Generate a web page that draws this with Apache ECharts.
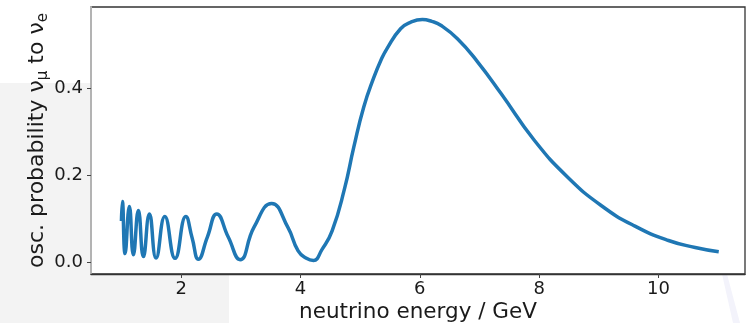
<!DOCTYPE html>
<html>
<head>
<meta charset="utf-8">
<script src="https://cdn.jsdelivr.net/npm/echarts@6/dist/echarts.min.js"></script>
<style>
  html, body { margin: 0; padding: 0; background: #fff; }
  #chart { width: 748px; height: 323px; }
</style>
</head>
<body>
<div id="chart"></div>
<script>
// 读图得到的能量 (GeV) 与振荡概率
var energy = [1.0, 1.016, 1.061, 1.133, 1.200, 1.284, 1.368, 1.469, 1.581, 1.727,
    1.899, 2.079, 2.185, 2.290, 2.44, 2.598, 2.79, 2.989, 3.22, 3.517,
    3.790, 3.961, 4.10, 4.218, 4.36, 4.531, 4.74, 4.893, 5.061, 5.230,
    5.35, 5.453, 5.678, 5.85, 6.043, 6.2, 6.351, 6.631, 6.968, 7.362,
    7.922, 8.483, 9.045, 9.606, 10.168, 10.615, 11.01];
var probability = [0.095, 0.140, 0.020, 0.128, 0.017, 0.119, 0.013, 0.111, 0.010, 0.105,
    0.009, 0.105, 0.056, 0.007, 0.058, 0.111, 0.058, 0.006, 0.080, 0.135,
    0.080, 0.026, 0.009, 0.004, 0.029, 0.072, 0.170, 0.264, 0.357, 0.425,
    0.465, 0.492, 0.537, 0.552, 0.558, 0.554, 0.545, 0.514, 0.461, 0.388,
    0.280, 0.195, 0.130, 0.083, 0.050, 0.034, 0.024];

var xTicks = [2, 4, 6, 8, 10];
var yTicks = [0, 0.2, 0.4];

var points = energy.map(function (e, i) { return [e, probability[i]]; });

var myChart = echarts.init(document.getElementById('chart'));
var font = 'DejaVu Sans';

var option = {
    animation: false,
    backgroundColor: '#fff',
    graphic: [
        // 截图里左下角的灰色底块
        { type: 'rect', z: -100, silent: true,
          shape: { x: 0, y: 83, width: 229, height: 240 },
          style: { fill: '#f3f3f3' } },
        { type: 'polygon', z: -100, silent: true,
          shape: { points: [[722, 274], [727, 274], [740, 323], [733, 323]] },
          style: { fill: '#f3f3fb' } }
    ],
    grid: {
        left: 91, right: 3, top: 7, bottom: 49,
        outerBoundsMode: 'none',
        show: true,
        backgroundColor: '#fff',
        borderColor: '#333',
        borderWidth: 1.3
    },
    xAxis: {
        type: 'value',
        min: 0.49, max: 11.45,
        name: 'neutrino energy / GeV',
        nameLocation: 'middle',
        nameGap: 27,
        nameMoveOverlap: false,
        nameTextStyle: { fontFamily: font, fontSize: 21.5, color: '#1a1a1a' },
        axisLine: { show: true, onZero: false, lineStyle: { color: '#333', width: 1.3 } },
        axisTick: { show: true, length: 4, customValues: xTicks, lineStyle: { color: '#444' } },
        axisLabel: { customValues: xTicks, margin: 6, fontFamily: font, fontSize: 18, color: '#1a1a1a' },
        splitLine: { show: false }
    },
    yAxis: {
        type: 'value',
        min: -0.027, max: 0.587,
        name: '{n|osc. probability ν}{s|μ}{n| to ν}{s|e}',
        nameLocation: 'middle',
        nameGap: 40,
        nameMoveOverlap: false,
        nameTextStyle: {
            fontFamily: font, fontSize: 22, color: '#1a1a1a',
            rich: {
                n: { fontFamily: font, fontSize: 22, lineHeight: 27, verticalAlign: 'bottom', padding: [0, 0, 3, 0], color: '#1a1a1a' },
                s: { fontFamily: font, fontSize: 15, lineHeight: 15, verticalAlign: 'bottom', color: '#1a1a1a' }
            }
        },
        axisLine: { show: true, onZero: false, lineStyle: { color: '#b3b3b3', width: 2 } },
        axisTick: { show: true, length: 4, customValues: yTicks, lineStyle: { color: '#444' } },
        axisLabel: {
            customValues: yTicks, margin: 8, fontFamily: font, fontSize: 18, color: '#1a1a1a',
            formatter: function (v) { return v.toFixed(1); }
        },
        splitLine: { show: false }
    },
    series: [{
        type: 'line',
        data: points,
        smooth: 0.5,
        showSymbol: false,
        lineStyle: { color: '#1f77b4', width: 3.5 },
        clip: true
    }]
};

myChart.setOption(option);
</script>
</body>
</html>
